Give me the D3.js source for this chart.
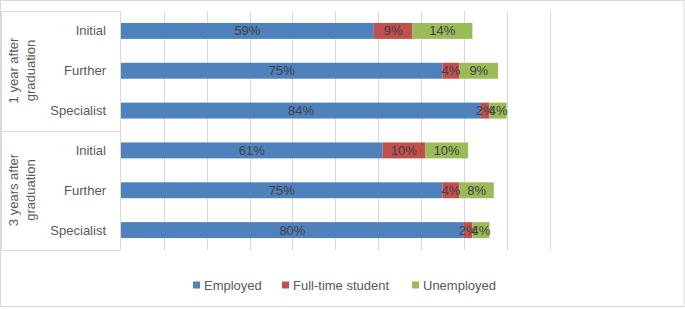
<!DOCTYPE html>
<html><head><meta charset="utf-8">
<script src="https://cdn.jsdelivr.net/npm/d3@7"></script>
<style>body{margin:0;background:#fff}svg{display:block}text{font-family:"Liberation Sans",Arial,sans-serif}</style>
</head><body><svg id="c" width="685" height="309"></svg>
<script>
const groups = ["1 year after graduation", "3 years after graduation"];
const groupLines = [["1 year after", "graduation"], ["3 years after", "graduation"]];
const categories = ["Initial", "Further", "Specialist"];
const seriesNames = ["Employed", "Full-time student", "Unemployed"];
const colors = ["#4f81bd", "#c0504d", "#9bbb59"];
const employed = [59, 75, 84, 61, 75, 80];
const student = [9, 4, 2, 10, 4, 2];
const unemployed = [14, 9, 4, 10, 8, 4];
const xTicks = [0, 10, 20, 30, 40, 50, 60, 70, 80, 90, 100];

const svg = d3.select("#c");
const rows = [];
groups.forEach((g, gi) => categories.forEach((c, ci) => rows.push({key: gi + "-" + c, group: gi, cat: c})));
const data = rows.map((r, i) => ({...r, Employed: employed[i], "Full-time student": student[i], Unemployed: unemployed[i]}));

const x = d3.scaleLinear().domain([0, 100]).range([121, 549.5]);
const y = d3.scaleBand().domain(rows.map(r => r.key)).range([11, 250]).paddingInner(0.6).paddingOuter(0.3);

// outer border
svg.append("rect").attr("x", 0.5).attr("y", 0.5).attr("width", 683.5).attr("height", 306)
  .attr("fill", "#fff").attr("stroke", "#d9d9d9");

// gridlines
svg.append("g").selectAll("line").data(xTicks.slice(1)).join("line")
  .attr("x1", d => Math.round(x(d)) + 0.5).attr("x2", d => Math.round(x(d)) + 0.5)
  .attr("y1", 11).attr("y2", 250).attr("stroke", "#d9d9d9");

// category box
const box = svg.append("g").attr("stroke", "#d9d9d9").attr("fill", "none");
box.append("line").attr("x1", 1.5).attr("x2", 1.5).attr("y1", 11).attr("y2", 250);
box.append("line").attr("x1", 120.5).attr("x2", 120.5).attr("y1", 11).attr("y2", 250);
[11, 130.5, 250].forEach(v => box.append("line").attr("x1", 1.5).attr("x2", 120.5).attr("y1", Math.round(v) + 0.5).attr("y2", Math.round(v) + 0.5));

// stacked bars
const stack = d3.stack().keys(seriesNames)(data);
stack.forEach((s, si) => {
  const g = svg.append("g");
  g.selectAll("rect").data(s).join("rect")
    .attr("x", d => x(d[0])).attr("width", d => x(d[1]) - x(d[0]))
    .attr("y", d => y(d.data.key)).attr("height", y.bandwidth())
    .attr("fill", colors[si]);
});
stack.forEach((s, si) => {
  svg.append("g").selectAll("text").data(s).join("text")
    .attr("x", d => (x(d[0]) + x(d[1])) / 2).attr("y", d => y(d.data.key) + y.bandwidth() / 2 + 4.5)
    .attr("text-anchor", "middle").attr("font-size", 13).attr("fill", "#404040")
    .text(d => (d[1] - d[0]) + "%");
});

// category labels
svg.append("g").selectAll("text").data(rows).join("text")
  .attr("x", 106).attr("y", d => y(d.key) + y.bandwidth() / 2 + 4.5)
  .attr("text-anchor", "end").attr("font-size", 13).attr("fill", "#595959")
  .text(d => d.cat);

// group labels
groupLines.forEach((lines, gi) => {
  const cy = gi === 0 ? 70.5 : 190;
  const t = svg.append("text").attr("transform", `translate(21.5,${cy}) rotate(-90)`)
    .attr("text-anchor", "middle").attr("font-size", 13).attr("fill", "#595959");
  lines.forEach((l, li) => t.append("tspan").attr("x", 0).attr("y", li === 0 ? -4 : 13).text(l));
});

// legend
const legX = [193, 282, 412];
const leg = svg.append("g");
seriesNames.forEach((n, i) => {
  leg.append("rect").attr("x", legX[i]).attr("y", 281.5).attr("width", 7).attr("height", 7).attr("fill", colors[i]);
  leg.append("text").attr("x", legX[i] + 11).attr("y", 289.5).attr("font-size", 13).attr("fill", "#595959").text(n);
});
</script></body></html>
